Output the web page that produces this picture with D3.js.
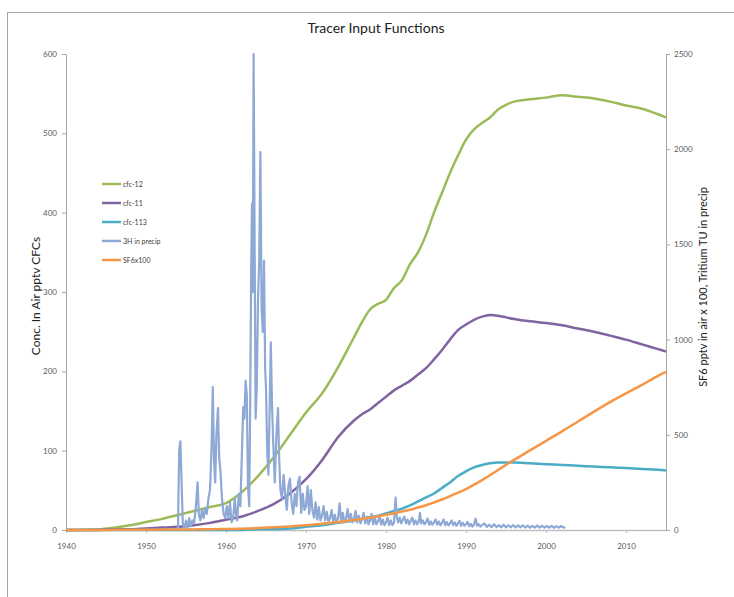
<!DOCTYPE html>
<html>
<head>
<meta charset="utf-8">
<script src="https://cdn.jsdelivr.net/npm/d3@7"></script>
<style>
body { margin: 0; background: #fff; }
svg { display: block; font-family: Lato, "Open Sans", sans-serif; }
</style>
</head>
<body>
<svg id="chart" width="734" height="597"></svg>
<script>
// years for the smooth (air) series
var years = [1940,1944,1946,1948,1950,1952,1954,1956,1958,1960,1962,1964,1966,1968,1970,1972,1974,1976,1977,1978,1979,1980,1981,1982,1983,1984,1985,1986,1987,1988,1989,1990,1991,1992,1993,1994,1995,1996,1998,2000,2002,2004,2006,2008,2010,2012,2014,2015];
// left axis, pptv
var cfc12  = [0,1,3,6,10,14,19,24,29,34,48,68,92,120,148,172,205,243,262,278,285,290,305,315,335,350,372,400,425,450,472,492,505,513,520,530,536,540,543,545,548,546,544,540,535,531,524,520];
var cfc11  = [0,0,1,1,2,3,4,6,9,13,17,24,33,46,64,88,117,138,146,152,160,168,176,182,188,196,204,215,227,240,252,259,265,269,271,270,268,266,263,261,258,254,250,245,240,234,228,225];
var cfc113 = [0,0,0,0,0,0,0,0,0,0,0,1,1,2,4,6,9,12,14,16,18,21,24,27,31,36,41,46,53,60,68,74,79,82,84,85,85,85,84,83,82,81,80,79,78,77,76,75];
// right axis, SF6 pptv x 100
var sf6x100 = [0,0,1,1,1,2,2,3,4,5,7,10,14,19,25,33,42,52,58,65,72,80,88,97,106,118,130,145,160,178,196,215,238,262,288,315,342,368,418,468,518,570,622,672,718,762,810,830];

// tritium in precip, [year, TU] (right axis)
var tritium = [[1953.75,0],[1954.0,12],[1954.15,420],[1954.3,465],[1954.45,250],[1954.6,35],[1954.8,10],[1955.0,50],[1955.2,12],[1955.4,62],[1955.6,20],[1955.8,50],[1956.0,35],[1956.2,105],[1956.45,250],[1956.6,85],[1956.8,50],[1957.0,105],[1957.2,62],[1957.4,115],[1957.6,85],[1957.8,165],[1958.0,210],[1958.2,440],[1958.35,750],[1958.5,375],[1958.65,250],[1958.8,500],[1959.0,640],[1959.15,375],[1959.3,310],[1959.5,165],[1959.7,85],[1959.9,62],[1960.1,125],[1960.3,62],[1960.5,145],[1960.7,40],[1960.9,62],[1961.1,165],[1961.25,85],[1961.4,50],[1961.6,190],[1961.8,125],[1962.0,420],[1962.15,645],[1962.3,585],[1962.45,785],[1962.6,710],[1962.75,230],[1962.9,125],[1963.0,540],[1963.15,1375],[1963.25,1715],[1963.35,1250],[1963.45,2500],[1963.55,1750],[1963.7,585],[1963.85,750],[1964.0,1210],[1964.15,1415],[1964.3,1985],[1964.45,1165],[1964.6,1040],[1964.75,1415],[1964.9,835],[1965.0,750],[1965.15,415],[1965.3,290],[1965.45,625],[1965.6,985],[1965.75,665],[1965.9,460],[1966.1,250],[1966.3,500],[1966.5,640],[1966.65,375],[1966.8,210],[1967.0,165],[1967.2,290],[1967.4,190],[1967.6,105],[1967.8,230],[1968.0,270],[1968.2,145],[1968.4,85],[1968.6,190],[1968.8,125],[1969.0,250],[1969.2,280],[1969.4,90],[1969.6,190],[1969.8,105],[1970.0,125],[1970.2,230],[1970.4,85],[1970.6,210],[1970.8,105],[1971.0,65],[1971.2,145],[1971.4,55],[1971.6,120],[1971.8,50],[1972.0,75],[1972.2,125],[1972.4,50],[1972.6,95],[1972.8,45],[1973.0,62],[1973.2,105],[1973.4,45],[1973.6,80],[1973.8,40],[1974.0,60],[1974.2,140],[1974.4,45],[1974.6,90],[1974.8,40],[1975.0,60],[1975.2,110],[1975.4,45],[1975.6,85],[1975.8,40],[1976.0,60],[1976.2,100],[1976.4,40],[1976.6,75],[1976.8,35],[1977.0,55],[1977.2,90],[1977.4,35],[1977.6,70],[1977.8,30],[1978.0,50],[1978.2,85],[1978.4,30],[1978.6,65],[1978.8,30],[1979.0,45],[1979.2,75],[1979.4,28],[1979.6,55],[1979.8,25],[1980.0,40],[1980.2,65],[1980.4,25],[1980.6,50],[1980.8,25],[1981.0,40],[1981.2,170],[1981.35,70],[1981.5,40],[1981.7,65],[1981.9,35],[1982.1,55],[1982.3,70],[1982.5,35],[1982.7,55],[1982.9,30],[1983.1,50],[1983.3,65],[1983.5,30],[1983.7,50],[1983.9,30],[1984.1,45],[1984.25,90],[1984.4,35],[1984.6,50],[1984.8,30],[1985.0,40],[1985.2,60],[1985.4,28],[1985.6,45],[1985.8,28],[1986.0,40],[1986.2,55],[1986.4,28],[1986.6,45],[1986.8,25],[1987.0,38],[1987.2,55],[1987.4,25],[1987.6,42],[1987.8,25],[1988.0,35],[1988.2,50],[1988.4,25],[1988.6,40],[1988.8,22],[1989.0,35],[1989.2,48],[1989.4,22],[1989.6,38],[1989.8,22],[1990.0,30],[1990.2,42],[1990.4,20],[1990.6,32],[1990.8,18],[1991.0,28],[1991.2,60],[1991.4,22],[1991.6,30],[1991.8,18],[1992.0,26],[1992.3,35],[1992.6,16],[1992.9,28],[1993.2,15],[1993.5,30],[1993.8,15],[1994.1,26],[1994.4,14],[1994.7,28],[1995.0,14],[1995.3,25],[1995.6,14],[1995.9,26],[1996.2,13],[1996.5,24],[1996.8,13],[1997.1,25],[1997.4,13],[1997.7,23],[1998.0,12],[1998.3,22],[1998.6,12],[1998.9,24],[1999.2,12],[1999.5,22],[1999.8,12],[2000.1,21],[2000.4,12],[2000.7,22],[2001.0,12],[2001.3,20],[2001.6,12],[2001.9,21],[2002.2,12],[2002.4,15]];

var xTicks = [1940,1950,1960,1970,1980,1990,2000,2010];
var leftTicks = [0,100,200,300,400,500,600];
var rightTicks = [0,500,1000,1500,2000,2500];
var legendNames = ["cfc-12","cfc-11","cfc-113","3H in precip","SF6x100"];
var legendColors = ["#9bbb59","#8064a2","#4bacc6","#8fa9d6","#f79646"];

var svg = d3.select("#chart");

// chart frame (runs off the right/bottom edge in the original)
svg.append("rect")
	.attr("x", 7.5).attr("y", 12.5)
	.attr("width", 760).attr("height", 620)
	.attr("fill", "none").attr("stroke", "#a6a6a6");

var x = d3.scaleLinear().domain([1940, 2015]).range([66, 666]);
var yL = d3.scaleLinear().domain([0, 600]).range([530, 54]);
var yR = d3.scaleLinear().domain([0, 2500]).range([530, 54]);

function styleAxis(g, col) {
	g.selectAll("path").attr("stroke", col);
	g.selectAll("line").attr("stroke", col);
	g.selectAll("text").attr("fill", "#595959").style("font-size", "8px").style("font-family", "Lato, sans-serif");
}

var gx = svg.append("g").attr("transform", "translate(0,530)")
	.call(d3.axisBottom(x).tickValues(xTicks).tickFormat(d3.format("d")).tickSize(3).tickSizeOuter(0).tickPadding(10));
styleAxis(gx, "#bfbfbf");
gx.select("path").attr("stroke-width", 1.5);

var gl = svg.append("g").attr("transform", "translate(66,0)")
	.call(d3.axisLeft(yL).tickValues(leftTicks).tickFormat(d3.format("d")).tickSize(4).tickSizeOuter(0).tickPadding(5));
styleAxis(gl, "#a6a6a6");

var gr = svg.append("g").attr("transform", "translate(666,0)")
	.call(d3.axisRight(yR).tickValues(rightTicks).tickFormat(d3.format("d")).tickSize(4).tickSizeOuter(0).tickPadding(4));
styleAxis(gr, "#a6a6a6");

// series
function drawSeries(vals, yScale, col) {
	var line = d3.line()
		.x(function(d, i) { return x(years[i]); })
		.y(function(d) { return yScale(d); })
		.curve(d3.curveMonotoneX);
	svg.append("path").datum(vals)
		.attr("d", line)
		.attr("fill", "none").attr("stroke", col)
		.attr("stroke-width", 2.5).attr("stroke-linejoin", "round");
}

drawSeries(cfc12, yL, legendColors[0]);
drawSeries(cfc11, yL, legendColors[1]);
drawSeries(cfc113, yL, legendColors[2]);

var tLine = d3.line()
	.x(function(d) { return x(d[0]); })
	.y(function(d) { return yR(d[1]); });
svg.append("path").datum(tritium)
	.attr("d", tLine)
	.attr("fill", "none").attr("stroke", legendColors[3])
	.attr("stroke-width", 2.2).attr("stroke-linejoin", "round");

drawSeries(sf6x100, yR, legendColors[4]);

// title and axis titles
svg.append("text").attr("x", 376).attr("y", 33)
	.attr("text-anchor", "middle").style("font-size", "14px").attr("fill", "#222")
	.text("Tracer Input Functions");

svg.append("text").attr("transform", "translate(40,296) rotate(-90)")
	.attr("text-anchor", "middle").style("font-size", "12px").attr("fill", "#222")
	.text("Conc. In Air pptv CFCs");

svg.append("text").attr("transform", "translate(707,287) rotate(-90)")
	.attr("text-anchor", "middle").style("font-size", "11px").attr("fill", "#222")
	.text("SF6 pptv in air x 100, Tritium TU in precip");

// legend
var legendY = d3.scalePoint().domain(legendNames).range([184, 260]);
var lg = svg.append("g");
legendNames.forEach(function(n, i) {
	lg.append("line")
		.attr("x1", 102).attr("x2", 121)
		.attr("y1", legendY(n)).attr("y2", legendY(n))
		.attr("stroke", legendColors[i]).attr("stroke-width", 2.5);
	lg.append("text")
		.attr("x", 123).attr("y", legendY(n) + 2.5)
		.style("font-size", "7px").attr("fill", "#404040")
		.text(n);
});
</script>
</body>
</html>
